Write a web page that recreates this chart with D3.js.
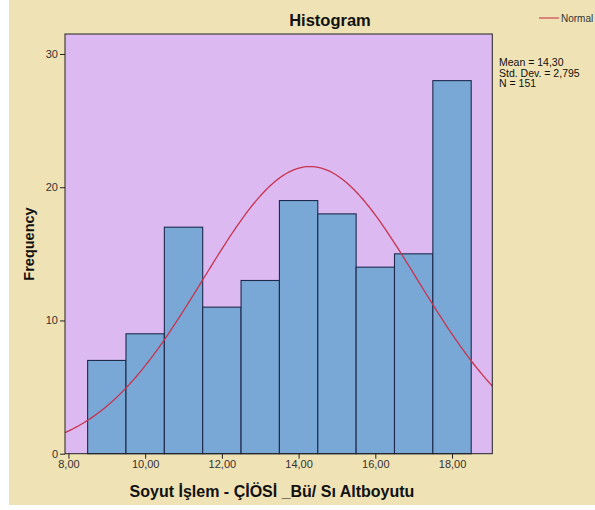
<!DOCTYPE html>
<html>
<head>
<meta charset="utf-8">
<script src="https://cdn.jsdelivr.net/npm/d3@7"></script>
<style>
  html, body { margin: 0; padding: 0; background: #ffffff; }
  svg { display: block; font-family: "Liberation Sans", Arial, sans-serif; }
</style>
</head>
<body>
<svg id="chart" width="595" height="510"></svg>
<script>
// Histogram bins (lower edge, width 1) and their counts
const binStarts = [8.5, 9.5, 10.5, 11.5, 12.5, 13.5, 14.5, 15.5, 16.5, 17.5];
const counts = [7, 9, 17, 11, 13, 19, 18, 14, 15, 28];
const binWidth = 1;

// Summary statistics for the fitted normal curve
const mean = 14.30;
const stdDev = 2.795;
const n = 151;

const xTicks = [8, 10, 12, 14, 16, 18];
const yTicks = [0, 10, 20, 30];

const svg = d3.select("#chart");

// Page background
svg.append("rect").attr("x", 9).attr("y", 0).attr("width", 586).attr("height", 505)
  .attr("fill", "#efe2b5");

const plot = { left: 65, right: 492.3, top: 34, bottom: 453.7 };

const x = d3.scaleLinear().domain([7.91, 19.05]).range([plot.left, plot.right]);
const y = d3.scaleLinear().domain([0, 31.5]).range([plot.bottom, plot.top]);

// Plot area
svg.append("rect")
  .attr("x", plot.left).attr("y", plot.top)
  .attr("width", plot.right - plot.left).attr("height", plot.bottom - plot.top)
  .attr("fill", "#dcb9f0");

svg.append("clipPath").attr("id", "plotClip").append("rect")
  .attr("x", plot.left).attr("y", plot.top)
  .attr("width", plot.right - plot.left).attr("height", plot.bottom - plot.top);

// Bars
svg.append("g").selectAll("rect").data(binStarts).join("rect")
  .attr("x", (d) => x(d))
  .attr("y", (d, i) => y(counts[i]))
  .attr("width", (d) => x(d + binWidth) - x(d))
  .attr("height", (d, i) => y(0) - y(counts[i]))
  .attr("fill", "#79a8d6")
  .attr("stroke", "#1d2a4c")
  .attr("stroke-width", 1.1);

// Normal curve scaled to frequency
const pdf = (v) => Math.exp(-((v - mean) ** 2) / (2 * stdDev * stdDev)) / (stdDev * Math.sqrt(2 * Math.PI));
const curveXs = d3.range(0, 201).map((i) => 7.91 + (19.05 - 7.91) * i / 200);
svg.append("path")
  .datum(curveXs)
  .attr("clip-path", "url(#plotClip)")
  .attr("fill", "none")
  .attr("stroke", "#c8334f")
  .attr("stroke-width", 1.3)
  .attr("d", d3.line().x((v) => x(v)).y((v) => y(n * binWidth * pdf(v))));

// Frame
svg.append("rect")
  .attr("x", plot.left).attr("y", plot.top)
  .attr("width", plot.right - plot.left).attr("height", plot.bottom - plot.top)
  .attr("fill", "none").attr("stroke", "#222").attr("stroke-width", 1);

// Axes
const fmt = (v) => d3.format(".2f")(v).replace(".", ",");
const xAxis = svg.append("g").attr("transform", `translate(0,${plot.bottom})`)
  .call(d3.axisBottom(x).tickValues(xTicks).tickFormat(fmt).tickSize(5).tickSizeOuter(0));
xAxis.select(".domain").remove();
xAxis.selectAll("text").attr("font-size", 11).attr("fill", "#333").attr("dy", "0.75em").attr("y", 6);
xAxis.selectAll("line").attr("stroke", "#222");

const yAxis = svg.append("g").attr("transform", `translate(${plot.left},0)`)
  .call(d3.axisLeft(y).tickValues(yTicks).tickSize(5).tickSizeOuter(0));
yAxis.select(".domain").remove();
yAxis.selectAll("text").attr("font-size", 11).attr("fill", "#333").attr("x", -7);
yAxis.selectAll("line").attr("stroke", "#222");

// Titles
svg.append("text").attr("x", 330).attr("y", 26).attr("text-anchor", "middle")
  .attr("font-size", 16.5).attr("font-weight", "bold").attr("fill", "#111").text("Histogram");

svg.append("text").attr("x", 272).attr("y", 497).attr("text-anchor", "middle")
  .attr("font-size", 16).attr("font-weight", "bold").attr("fill", "#111")
  .text("Soyut İşlem - ÇİÖSİ _Bü/ Sı Altboyutu");

svg.append("text").attr("transform", "translate(34,244) rotate(-90)").attr("text-anchor", "middle")
  .attr("font-size", 14.5).attr("font-weight", "bold").attr("fill", "#111").text("Frequency");

// Legend
svg.append("line").attr("x1", 539).attr("x2", 559).attr("y1", 18).attr("y2", 18)
  .attr("stroke", "#d0505a").attr("stroke-width", 1.3);
svg.append("text").attr("x", 561).attr("y", 21.5).attr("font-size", 10).attr("fill", "#333").text("Normal");

// Statistics
const stats = [`Mean = ${fmt(mean)}`, `Std. Dev. = ${d3.format(".3f")(stdDev).replace(".", ",")}`, `N = ${n}`];
svg.append("g").selectAll("text").data(stats).join("text")
  .attr("x", 499).attr("y", (d, i) => 66 + i * 10.5)
  .attr("font-size", 10.5).attr("fill", "#111").text((d) => d);
</script>
</body>
</html>
